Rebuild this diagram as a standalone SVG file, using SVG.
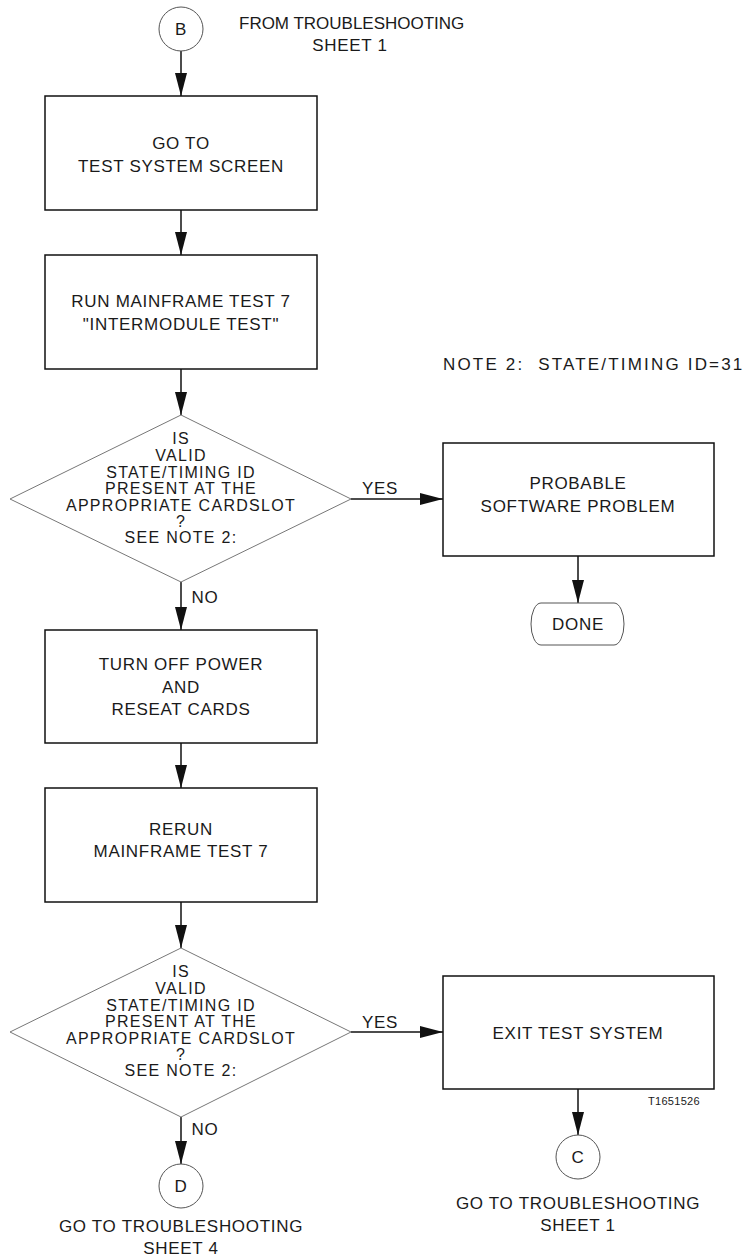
<svg xmlns="http://www.w3.org/2000/svg" width="748" height="1259" viewBox="0 0 748 1259">
<style>
text{font-family:"Liberation Sans",Arial,sans-serif;font-size:17px;fill:#1a1a1a;text-anchor:middle;letter-spacing:0.7px}
.d{font-size:16px;letter-spacing:1.3px}
.box{fill:#fff;stroke:#111;stroke-width:1.5}
.dia{fill:#fff;stroke:#777;stroke-width:1}
.circ{fill:#fff;stroke:#555;stroke-width:1}
.con{stroke:#111;stroke-width:1.5;fill:none;marker-end:url(#ah)}
.small{font-size:11px;letter-spacing:0.3px}
</style>
<defs>
<marker id="ah" markerUnits="userSpaceOnUse" markerWidth="23" markerHeight="12" refX="23" refY="6" orient="auto" viewBox="0 0 23 12">
<path d="M0,0 L23,6 L0,12 z" fill="#111"/>
</marker>
</defs>
<rect width="748" height="1259" fill="#fff"/>
<g id="connectors">
<line class="con" x1="181" y1="51" x2="181" y2="96"/>
<line class="con" x1="181" y1="210" x2="181" y2="255"/>
<line class="con" x1="181" y1="369" x2="181" y2="415"/>
<line class="con" x1="351" y1="499" x2="443" y2="499"/>
<line class="con" x1="578" y1="556" x2="578" y2="603"/>
<line class="con" x1="181" y1="582" x2="181" y2="630"/>
<line class="con" x1="181" y1="743" x2="181" y2="788"/>
<line class="con" x1="181" y1="902" x2="181" y2="948"/>
<line class="con" x1="351" y1="1032" x2="443" y2="1032"/>
<line class="con" x1="578" y1="1089" x2="578" y2="1135"/>
<line class="con" x1="181" y1="1117" x2="181" y2="1164"/>
<text x="380" y="494">YES</text>
<text x="205" y="603">NO</text>
<text x="380" y="1028">YES</text>
<text x="205" y="1135">NO</text>
</g>
<g id="startB">
<circle class="circ" cx="181" cy="29" r="22"/>
<text x="181" y="35">B</text>
<text x="352" y="29" textLength="226" lengthAdjust="spacing">FROM TROUBLESHOOTING</text>
<text x="350" y="51">SHEET 1</text>
</g>
<g id="box1">
<rect class="box" x="45" y="96" width="272" height="114"/>
<text x="181" y="149">GO TO</text>
<text x="181" y="172">TEST SYSTEM SCREEN</text>
</g>
<g id="box2">
<rect class="box" x="45" y="255" width="272" height="114"/>
<text x="181" y="307">RUN MAINFRAME TEST 7</text>
<text x="181" y="330">"INTERMODULE TEST"</text>
</g>
<g id="note2">
<text x="443" y="370" style="text-anchor:start" xml:space="preserve" textLength="300" lengthAdjust="spacing">NOTE 2:  STATE/TIMING ID=31</text>
</g>
<g id="decision1">
<polygon class="dia" points="181,415 351,499 181,582 10,499"/>
<text class="d" x="181" y="444">IS</text>
<text class="d" x="181" y="461">VALID</text>
<text class="d" x="181" y="478">STATE/TIMING ID</text>
<text class="d" x="181" y="494">PRESENT AT THE</text>
<text class="d" x="181" y="511">APPROPRIATE CARDSLOT</text>
<text class="d" x="181" y="527">?</text>
<text class="d" x="181" y="543">SEE NOTE 2:</text>
</g>
<g id="probable">
<rect class="box" x="443" y="443" width="271" height="113"/>
<text x="578" y="489">PROBABLE</text>
<text x="578" y="512">SOFTWARE PROBLEM</text>
</g>
<g id="done">
<path class="circ" d="M541,603 L614,603 A10,21 0 0 1 614,645 L541,645 A10,21 0 0 1 541,603 Z"/>
<text x="578" y="630">DONE</text>
</g>
<g id="box3">
<rect class="box" x="45" y="630" width="272" height="113"/>
<text x="181" y="670">TURN OFF POWER</text>
<text x="181" y="693">AND</text>
<text x="181" y="715">RESEAT CARDS</text>
</g>
<g id="box4">
<rect class="box" x="45" y="788" width="272" height="114"/>
<text x="181" y="835">RERUN</text>
<text x="181" y="857">MAINFRAME TEST 7</text>
</g>
<g id="decision2">
<polygon class="dia" points="181,948 351,1032 181,1117 10,1032"/>
<text class="d" x="181" y="977">IS</text>
<text class="d" x="181" y="994">VALID</text>
<text class="d" x="181" y="1011">STATE/TIMING ID</text>
<text class="d" x="181" y="1027">PRESENT AT THE</text>
<text class="d" x="181" y="1044">APPROPRIATE CARDSLOT</text>
<text class="d" x="181" y="1060">?</text>
<text class="d" x="181" y="1076">SEE NOTE 2:</text>
</g>
<g id="exit">
<rect class="box" x="443" y="976" width="271" height="113"/>
<text x="578" y="1039">EXIT TEST SYSTEM</text>
<text class="small" x="674" y="1105">T1651526</text>
</g>
<g id="endC">
<circle class="circ" cx="578" cy="1157" r="22"/>
<text x="578" y="1163">C</text>
<text x="578" y="1209">GO TO TROUBLESHOOTING</text>
<text x="578" y="1231">SHEET 1</text>
</g>
<g id="endD">
<circle class="circ" cx="181" cy="1186" r="22"/>
<text x="181" y="1192">D</text>
<text x="181" y="1232">GO TO TROUBLESHOOTING</text>
<text x="181" y="1254">SHEET 4</text>
</g>
</svg>
